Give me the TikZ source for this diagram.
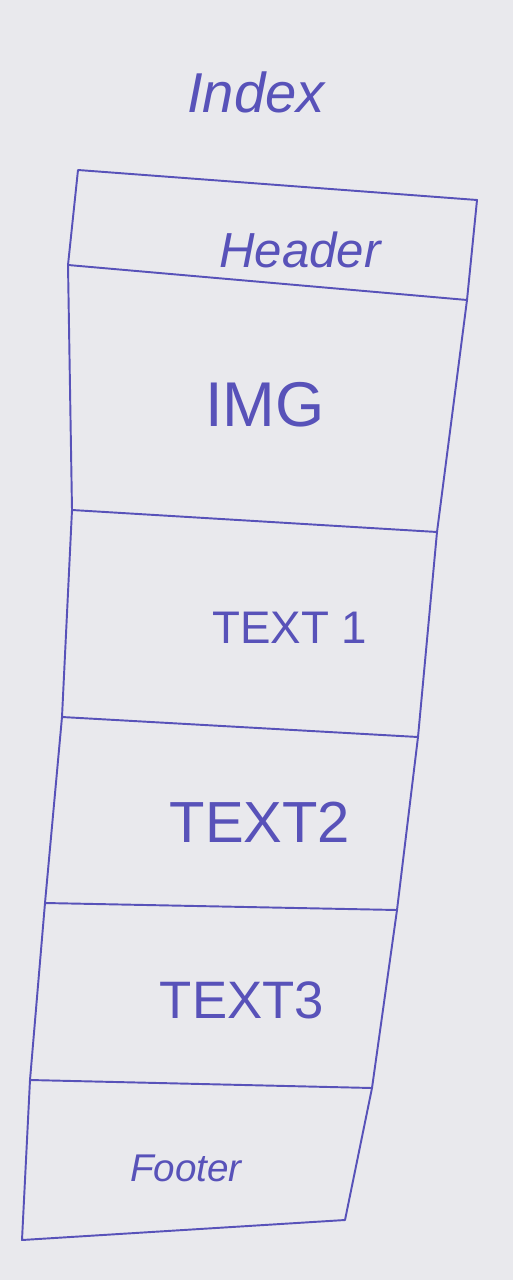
\documentclass[tikz,border=0pt]{standalone}
\usepackage{fontspec}
\setmainfont{Liberation Sans}
\definecolor{ink}{RGB}{88,82,185}
\definecolor{paper}{RGB}{233,233,237}

\begin{document}
\begin{tikzpicture}[x=0.02cm,y=-0.02cm,
  outline/.style={draw=ink,line width=1.1pt,line join=round},
  hand/.style={text=ink,inner sep=0pt,font=\fontsize{30}{32}\selectfont},
  script/.style={hand,font=\fontsize{28}{30}\selectfont\itshape}]

% Paper
\fill [paper] (0,0) rectangle (513,1280);

% Left and right ends of the outline and its dividers
\foreach \i/\xl/\yl/\xr/\yr in {
  0/78/170/477/200,
  1/68/265/467/300,
  2/72/510/437/532,
  3/62/717/418/737,
  4/45/903/397/910,
  5/30/1080/372/1088,
  6/22/1240/345/1220} {
  \coordinate (l\i) at (\xl,\yl);
  \coordinate (r\i) at (\xr,\yr);
}

% The page outline
\draw [outline] (l0) -- (l1) -- (l2) -- (l3) -- (l4) -- (l5) -- (l6)
  -- (r6) -- (r5) -- (r4) -- (r3) -- (r2) -- (r1) -- (r0) -- cycle;

% The dividers between the sections
\foreach \i in {1,...,5} {
  \draw [outline] (l\i) -- (r\i);
}

% Section labels
\node [script,font=\fontsize{32}{34}\selectfont\itshape] (index) at (256,92) {Index};
\node [script] (header) at (300,250) {Header};
\node [hand,font=\fontsize{36}{38}\selectfont] (img) at (265,405) {IMG};
\node [hand,font=\fontsize{26}{28}\selectfont] (text1) at (290,628) {TEXT 1};
\node [hand,font=\fontsize{33}{35}\selectfont] (text2) at (260,822) {TEXT2};
\node [hand] (text3) at (242,1000) {TEXT3};
\node [script,font=\fontsize{22}{24}\selectfont\itshape] (footer) at (186,1168) {Footer};

\end{tikzpicture}
\end{document}
